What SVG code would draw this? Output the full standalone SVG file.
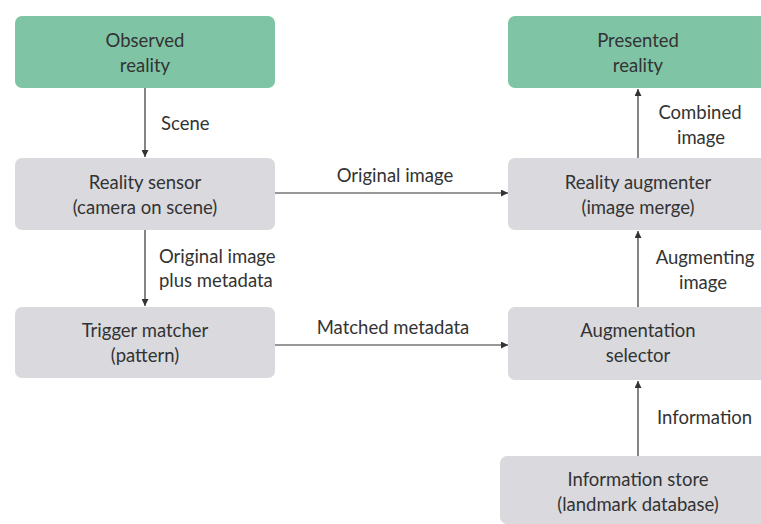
<svg xmlns="http://www.w3.org/2000/svg" width="761" height="524" viewBox="0 0 761 524">
<style>
.g{fill:#80c4a6}
.n{fill:#d9d9de}
text{font-family:Lato,"Liberation Sans",sans-serif;font-size:18.5px;fill:#333}
.c{text-anchor:middle}
.l{stroke:#333;stroke-width:1.2;fill:none}
</style>
<defs>
<marker id="a" viewBox="0 0 10 10" refX="10" refY="5" markerWidth="8" markerHeight="7" orient="auto" markerUnits="userSpaceOnUse">
<path d="M0,0L10,5L0,10z" fill="#333"/>
</marker>
</defs>
<rect width="761" height="524" fill="#fff"/>
<g id="connectors">
<line class="l" x1="145" y1="88" x2="145" y2="157" marker-end="url(#a)"/>
<line class="l" x1="145" y1="230" x2="145" y2="306" marker-end="url(#a)"/>
<line class="l" x1="275" y1="193" x2="508" y2="193" marker-end="url(#a)"/>
<line class="l" x1="275" y1="345" x2="508" y2="345" marker-end="url(#a)"/>
<line class="l" x1="638" y1="158" x2="638" y2="89" marker-end="url(#a)"/>
<line class="l" x1="638" y1="307" x2="638" y2="231" marker-end="url(#a)"/>
<line class="l" x1="638" y1="456" x2="638" y2="381" marker-end="url(#a)"/>
<text x="161" y="130">Scene</text>
<text x="159" y="263">Original image</text>
<text x="159" y="287">plus metadata</text>
<text class="c" x="395" y="182">Original image</text>
<text class="c" x="393" y="334">Matched metadata</text>
<text class="c" x="700" y="119">Combined</text>
<text class="c" x="701" y="144">image</text>
<text class="c" x="705" y="264">Augmenting</text>
<text class="c" x="703" y="289">image</text>
<text x="657" y="424">Information</text>
</g>
<g id="observed">
<rect class="g" x="15" y="16" width="260" height="72" rx="7"/>
<text class="c" x="145" y="47">Observed</text>
<text class="c" x="145" y="72">reality</text>
</g>
<g id="sensor">
<rect class="n" x="15" y="158" width="260" height="72" rx="7"/>
<text class="c" x="145" y="189">Reality sensor</text>
<text class="c" x="145" y="214">(camera on scene)</text>
</g>
<g id="trigger">
<rect class="n" x="15" y="307" width="260" height="71" rx="7"/>
<text class="c" x="145" y="337">Trigger matcher</text>
<text class="c" x="145" y="362">(pattern)</text>
</g>
<g id="presented">
<rect class="g" x="508" y="16" width="260" height="72" rx="7"/>
<text class="c" x="638" y="47">Presented</text>
<text class="c" x="638" y="72">reality</text>
</g>
<g id="augmenter">
<rect class="n" x="508" y="158" width="260" height="72" rx="7"/>
<text class="c" x="638" y="189">Reality augmenter</text>
<text class="c" x="638" y="214">(image merge)</text>
</g>
<g id="selector">
<rect class="n" x="508" y="307" width="260" height="73" rx="7"/>
<text class="c" x="638" y="337">Augmentation</text>
<text class="c" x="638" y="362">selector</text>
</g>
<g id="store">
<rect class="n" x="500" y="456" width="268" height="68" rx="7"/>
<text class="c" x="638" y="486">Information store</text>
<text class="c" x="638" y="511">(landmark database)</text>
</g>
</svg>
